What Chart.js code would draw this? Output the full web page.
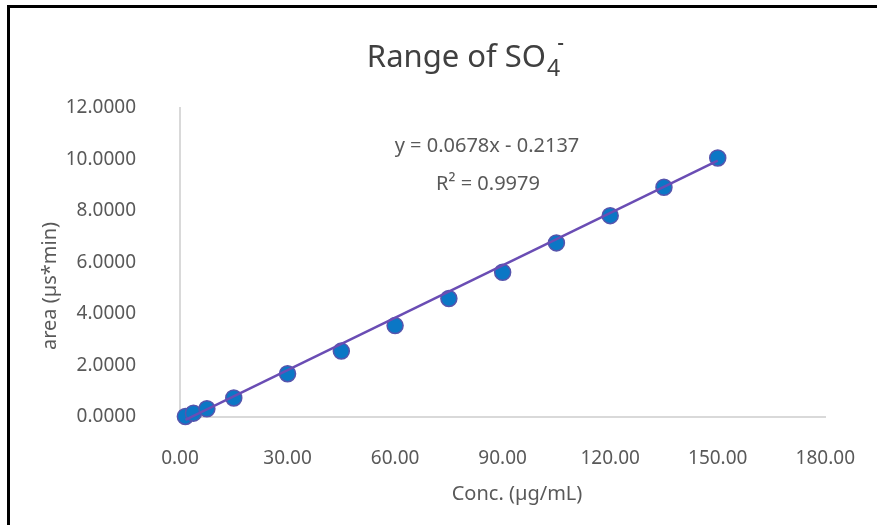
<!DOCTYPE html>
<html>
<head>
<meta charset="utf-8">
<title>Range of SO4-</title>
<script src="https://cdn.jsdelivr.net/npm/chart.js@4.4.1/dist/chart.umd.min.js"></script>
<style>
  html, body { margin: 0; padding: 0; background: #fff; }
  #wrap { width: 877px; height: 525px; }
</style>
</head>
<body>
<div id="wrap"><canvas id="rangeChart" width="877" height="525"></canvas></div>
<script>
// calibration points: concentration (µg/mL) vs peak area (µs*min)
const concentrations = [1.5, 3.75, 7.5, 15, 30, 45, 60, 75, 90, 105, 120, 135, 150];
const areas = [0.02, 0.15, 0.32, 0.74, 1.68, 2.56, 3.55, 4.60, 5.62, 6.76, 7.82, 8.92, 10.06];

// linear fit as reported on the chart
const slope = 0.0678;
const intercept = -0.2137;
const rSquared = 0.9979;

const xTicks = [0, 30, 60, 90, 120, 150, 180];
const yTicks = [0, 2, 4, 6, 8, 10, 12];

const FONT = "'Noto Sans', sans-serif";
const TEXT = "#595959";

const points = concentrations.map((c, i) => ({ x: c, y: areas[i] }));
const xFirst = concentrations[0];
const xLast = concentrations[concentrations.length - 1];
const trend = [
  { x: xFirst, y: slope * xFirst + intercept },
  { x: xLast, y: slope * xLast + intercept },
];

// title, fit label, axis titles and the frame
const decorations = {
  id: "decorations",
  afterDraw(chart) {
    const ctx = chart.ctx;
    ctx.save();

    // frame (top and left edges)
    ctx.strokeStyle = "#000";
    ctx.lineWidth = 3;
    ctx.beginPath();
    ctx.moveTo(8.5, 530);
    ctx.lineTo(8.5, 6.5);
    ctx.lineTo(880, 6.5);
    ctx.stroke();

    // title with subscript / superscript
    ctx.fillStyle = "#404040";
    ctx.textBaseline = "alphabetic";
    ctx.textAlign = "left";
    const main = "Range of SO";
    ctx.font = "31px " + FONT;
    const wMain = ctx.measureText(main).width;
    ctx.font = "23px " + FONT;
    const wSub = ctx.measureText("4").width;
    const total = wMain + wSub + 6;
    let tx = 466 - total / 2;
    ctx.font = "31px " + FONT;
    ctx.fillText(main, tx, 67);
    tx += wMain + 1;
    ctx.font = "23px " + FONT;
    ctx.fillText("4", tx, 76);
    ctx.fillRect(tx + wSub - 2, 43, 5, 2);

    // fit equation
    ctx.fillStyle = TEXT;
    ctx.font = "20px " + FONT;
    ctx.textAlign = "center";
    const sign = intercept < 0 ? "-" : "+";
    ctx.fillText("y = " + slope.toFixed(4) + "x " + sign + " " + Math.abs(intercept).toFixed(4), 487, 152);
    ctx.fillText("R² = " + rSquared.toFixed(4), 488, 190);

    // axis titles
    ctx.fillText("Conc. (µg/mL)", 517, 500);
    ctx.translate(50, 286);
    ctx.rotate(-Math.PI / 2);
    ctx.textBaseline = "middle";
    ctx.fillText("area (µs*min)", 0, 0);

    ctx.restore();
  },
};

new Chart(document.getElementById("rangeChart"), {
  type: "scatter",
  data: {
    datasets: [
      {
        type: "line",
        label: "Linear fit",
        data: trend,
        borderColor: "#6a4db4",
        borderWidth: 2.5,
        pointRadius: 0,
        showLine: true,
        fill: false,
        clip: false,
        order: 0,
      },
      {
        label: "Area",
        data: points,
        backgroundColor: "#0b77c5",
        borderColor: "#5655ad",
        borderWidth: 1.5,
        pointRadius: 8,
        clip: false,
        order: 1,
      },
    ],
  },
  options: {
    responsive: false,
    devicePixelRatio: 1,
    animation: false,
    layout: { padding: { top: 108, right: 34, left: 0, bottom: 0 } },
    plugins: {
      legend: { display: false },
      tooltip: { enabled: false },
      title: { display: false },
    },
    scales: {
      x: {
        type: "linear",
        min: xTicks[0],
        max: xTicks[xTicks.length - 1],
        afterBuildTicks: (axis) => {
          axis.ticks = xTicks.map((v) => ({ value: v }));
        },
        afterFit: (scale) => {
          scale.height = 108;
        },
        grid: { display: false },
        border: { display: true, color: "#d9d9d9", width: 2 },
        ticks: {
          padding: 22,
          color: TEXT,
          font: { family: FONT, size: 19 },
          maxRotation: 0,
          callback: (v) => Number(v).toFixed(2),
        },
      },
      y: {
        type: "linear",
        min: yTicks[0],
        max: yTicks[yTicks.length - 1],
        afterBuildTicks: (axis) => {
          axis.ticks = yTicks.map((v) => ({ value: v }));
        },
        afterFit: (scale) => {
          scale.width = 180;
        },
        grid: { display: false },
        border: { display: true, color: "#d9d9d9", width: 2 },
        ticks: {
          padding: 36,
          color: TEXT,
          font: { family: FONT, size: 19 },
          callback: (v) => Number(v).toFixed(4),
        },
      },
    },
  },
  plugins: [decorations],
});
</script>
</body>
</html>
